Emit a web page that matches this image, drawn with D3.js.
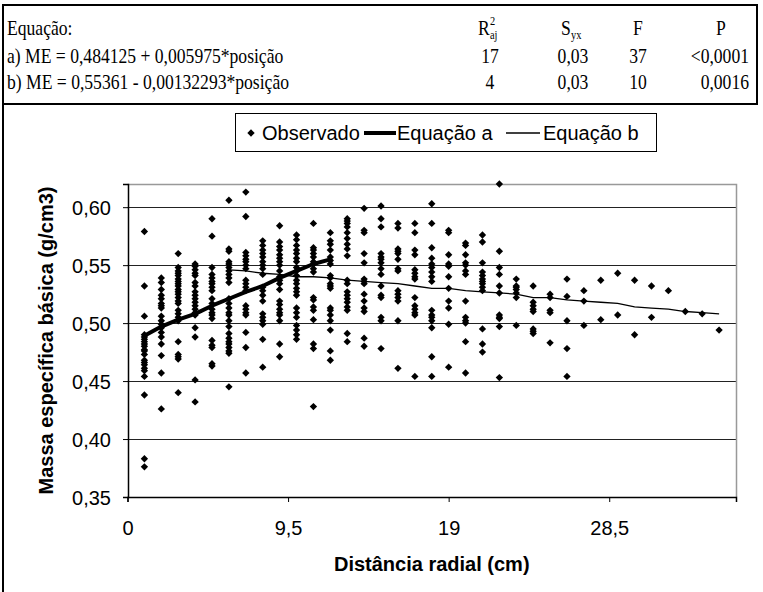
<!DOCTYPE html>
<html>
<head>
<meta charset="utf-8">
<script src="https://cdn.jsdelivr.net/npm/d3@7/dist/d3.min.js"></script>
<style>
  body { margin: 0; background: #fff; }
  svg { display: block; }
</style>
</head>
<body>
<div id="chart"></div>
<script>
// posições radiais (cm) e massa específica observada em cada posição
var posicoes = [1, 2, 3, 4, 5, 6, 7, 8, 9, 10, 11, 12, 13, 14, 15, 16, 17, 18,
  19, 20, 21, 22, 23, 24, 25, 26, 27, 28, 29, 30, 31, 32, 33, 34, 35];

var observado = [
  [0.579, 0.532, 0.506, 0.490, 0.488, 0.486, 0.484, 0.482, 0.480, 0.477, 0.476, 0.473, 0.468, 0.466, 0.464, 0.461, 0.459, 0.454, 0.438, 0.383, 0.376],
  [0.539, 0.535, 0.529, 0.524, 0.521, 0.517, 0.515, 0.513, 0.506, 0.502, 0.499, 0.496, 0.492, 0.488, 0.482, 0.472, 0.457, 0.426],
  [0.560, 0.548, 0.545, 0.543, 0.541, 0.538, 0.536, 0.534, 0.532, 0.529, 0.527, 0.525, 0.522, 0.519, 0.517, 0.511, 0.508, 0.505, 0.502, 0.484, 0.473, 0.471, 0.469, 0.440],
  [0.551, 0.549, 0.546, 0.543, 0.541, 0.535, 0.532, 0.527, 0.524, 0.521, 0.518, 0.515, 0.512, 0.509, 0.507, 0.496, 0.488, 0.451, 0.432],
  [0.590, 0.575, 0.548, 0.542, 0.539, 0.536, 0.534, 0.531, 0.528, 0.521, 0.517, 0.512, 0.509, 0.507, 0.504, 0.485, 0.481, 0.479, 0.465, 0.463],
  [0.606, 0.564, 0.562, 0.553, 0.551, 0.548, 0.545, 0.542, 0.539, 0.535, 0.521, 0.517, 0.513, 0.509, 0.507, 0.502, 0.497, 0.491, 0.487, 0.484, 0.482, 0.479, 0.476, 0.474, 0.445],
  [0.613, 0.592, 0.561, 0.558, 0.555, 0.553, 0.550, 0.547, 0.537, 0.534, 0.531, 0.528, 0.515, 0.512, 0.509, 0.507, 0.492, 0.479, 0.457],
  [0.571, 0.567, 0.563, 0.560, 0.557, 0.553, 0.550, 0.547, 0.542, 0.531, 0.528, 0.524, 0.519, 0.508, 0.505, 0.502, 0.499, 0.486, 0.462],
  [0.584, 0.570, 0.566, 0.563, 0.559, 0.556, 0.553, 0.550, 0.545, 0.540, 0.537, 0.534, 0.529, 0.519, 0.516, 0.512, 0.509, 0.507, 0.502, 0.482, 0.471],
  [0.576, 0.572, 0.567, 0.563, 0.560, 0.556, 0.553, 0.548, 0.545, 0.541, 0.537, 0.534, 0.530, 0.527, 0.524, 0.513, 0.509, 0.505, 0.498, 0.494, 0.490, 0.486],
  [0.586, 0.565, 0.563, 0.560, 0.557, 0.553, 0.551, 0.547, 0.544, 0.522, 0.520, 0.514, 0.511, 0.503, 0.482, 0.478, 0.428],
  [0.578, 0.571, 0.568, 0.563, 0.557, 0.554, 0.551, 0.541, 0.539, 0.534, 0.532, 0.530, 0.513, 0.511, 0.507, 0.502, 0.494, 0.476, 0.468],
  [0.590, 0.588, 0.586, 0.583, 0.578, 0.573, 0.568, 0.564, 0.558, 0.537, 0.534, 0.527, 0.524, 0.521, 0.518, 0.514, 0.511, 0.491, 0.484],
  [0.599, 0.580, 0.578, 0.560, 0.552, 0.538, 0.536, 0.534, 0.525, 0.519, 0.513, 0.510, 0.487, 0.480],
  [0.601, 0.590, 0.583, 0.560, 0.557, 0.555, 0.552, 0.547, 0.542, 0.532, 0.524, 0.522, 0.505, 0.502, 0.478],
  [0.586, 0.582, 0.564, 0.562, 0.560, 0.555, 0.547, 0.545, 0.528, 0.525, 0.522, 0.519, 0.502, 0.461],
  [0.586, 0.578, 0.563, 0.559, 0.546, 0.543, 0.540, 0.538, 0.522, 0.515, 0.512, 0.509, 0.507, 0.454],
  [0.603, 0.586, 0.565, 0.556, 0.551, 0.548, 0.544, 0.540, 0.536, 0.511, 0.507, 0.505, 0.502, 0.496, 0.471, 0.454],
  [0.580, 0.578, 0.559, 0.551, 0.549, 0.540, 0.530, 0.519, 0.513, 0.499, 0.462],
  [0.569, 0.567, 0.559, 0.552, 0.550, 0.545, 0.542, 0.519, 0.505, 0.502, 0.500, 0.484, 0.457],
  [0.576, 0.570, 0.552, 0.544, 0.541, 0.538, 0.536, 0.534, 0.531, 0.528, 0.495, 0.482, 0.475],
  [0.620, 0.562, 0.548, 0.542, 0.532, 0.526, 0.507, 0.505, 0.504, 0.497, 0.453],
  [0.538, 0.532, 0.531, 0.529, 0.526, 0.522, 0.498],
  [0.532, 0.518, 0.515, 0.512, 0.510, 0.495, 0.493, 0.491],
  [0.525, 0.522, 0.511, 0.509, 0.483],
  [0.538, 0.523, 0.502, 0.478, 0.454],
  [0.528, 0.519, 0.498],
  [0.537, 0.503],
  [0.543, 0.507],
  [0.537, 0.490],
  [0.532, 0.505],
  [0.528],
  [0.510],
  [0.508],
  [0.494]
];

// curvas ajustadas
var eqA_pos = [1, 2, 3, 4, 5, 6, 7, 8, 9, 10, 11, 12];
var eqA_val = [0.489, 0.497, 0.503, 0.508, 0.515, 0.521, 0.527, 0.532, 0.539, 0.545, 0.551, 0.555];
var eqB_pos = [6, 7, 8, 9, 10, 11, 12, 13, 14, 15, 16, 17, 18, 19, 20, 21, 22, 23, 24, 25, 26, 27, 28, 29, 30, 31, 32, 33, 34, 35];
var eqB_val = [0.546, 0.545, 0.543, 0.542, 0.540, 0.540, 0.539, 0.537, 0.536, 0.535, 0.534, 0.532, 0.530, 0.530, 0.528,
  0.527, 0.526, 0.525, 0.522, 0.522, 0.520, 0.519, 0.518, 0.517, 0.514, 0.513, 0.512, 0.510, 0.509, 0.508];

var xTicks = [0, 9.5, 19, 28.5];
var yTicks = [0.35, 0.40, 0.45, 0.50, 0.55, 0.60];

// tabela acima do gráfico
var tabEquacoes = ["a) ME = 0,484125 + 0,005975*posição", "b) ME = 0,55361 - 0,00132293*posição"];
var tabR2 = ["17", "4"];
var tabSyx = ["0,03", "0,03"];
var tabF = ["37", "10"];
var tabP = ["<0,0001", "0,0016"];
var legenda = ["Observado", "Equação a", "Equação b"];

var width = 763, height = 592;
var svg = d3.select("#chart").append("svg")
  .attr("width", width)
  .attr("height", height);

var serif = "'Liberation Serif', 'Times New Roman', serif";
var sans = "'Liberation Sans', Arial, sans-serif";

// ---- tabela ----
var tab = svg.append("g").attr("font-family", serif).attr("fill", "#000");
tab.append("rect").attr("x", 3).attr("y", 5).attr("width", 754).attr("height", 99)
  .attr("fill", "none").attr("stroke", "#000").attr("stroke-width", 2);

function tText(txt, x, y, anchor, size) {
  return tab.append("text")
    .attr("transform", "translate(" + x + "," + y + ") scale(0.8,1)")
    .attr("text-anchor", anchor || "start")
    .attr("font-size", size || 22)
    .text(txt);
}
var rowY = [35, 63, 89];
tText("Equação:", 7, rowY[0]);
tText("R", 478, rowY[0]);
tText("2", 490, rowY[0] - 10, "start", 13);
tText("aj", 490, rowY[0] + 4, "start", 13);
tText("S", 561, rowY[0]);
tText("yx", 571, rowY[0] + 4, "start", 13);
tText("F", 638, rowY[0], "middle");
tText("P", 721, rowY[0], "middle");
tabEquacoes.forEach(function(t, i) {
  tText(t, 7, rowY[i + 1]);
  tText(tabR2[i], 490, rowY[i + 1], "middle");
  tText(tabSyx[i], 573, rowY[i + 1], "middle");
  tText(tabF[i], 638, rowY[i + 1], "middle");
  tText(tabP[i], 749, rowY[i + 1], "end");
});

// moldura do gráfico
svg.append("line").attr("x1", 3).attr("x2", 3).attr("y1", 104).attr("y2", height)
  .attr("stroke", "#000").attr("stroke-width", 2);

// ---- área de plotagem ----
var x = d3.scaleLinear().domain([0, 36]).range([127.5, 736]);
var y = d3.scaleLinear().domain([0.35, 0.62]).range([497, 184]);

var plot = svg.append("g");

// grade horizontal
plot.selectAll(".grid").data(yTicks.slice(1)).enter().append("line")
  .attr("class", "grid")
  .attr("x1", x(0)).attr("x2", x(36))
  .attr("y1", function(d) { return Math.round(y(d)) + 0.5; })
  .attr("y2", function(d) { return Math.round(y(d)) + 0.5; })
  .attr("stroke", "#222").attr("stroke-width", 1);

// borda cinza (topo e direita)
plot.append("path")
  .attr("d", "M" + x(0) + "," + (y(0.62) + 0.5) + "H" + (x(36) + 0.5) + "V" + y(0.35))
  .attr("fill", "none").attr("stroke", "#999").attr("stroke-width", 1.5);

var yAxis = plot.append("g")
  .attr("transform", "translate(" + Math.round(x(0)) + ",0)")
  .call(d3.axisLeft(y).tickValues(yTicks).tickSizeOuter(0).tickSize(5).tickPadding(12)
    .tickFormat(function(d) { return d3.format(".2f")(d).replace(".", ","); }));

var xAxis = plot.append("g")
  .attr("transform", "translate(0," + Math.round(y(0.35)) + ")")
  .call(d3.axisBottom(x).tickValues(xTicks).tickSizeOuter(0).tickSize(5).tickPadding(19)
    .tickFormat(function(d) { return String(d).replace(".", ","); }));

[yAxis, xAxis].forEach(function(a) {
  a.select(".domain").attr("stroke", "#000").attr("stroke-width", 1.5);
  a.selectAll(".tick line").attr("stroke", "#000");
  a.selectAll(".tick text").attr("font-family", sans).attr("font-size", 20).attr("fill", "#000");
});
yAxis.selectAll(".tick text").attr("dy", "0.36em");

// pontos observados
var pontos = [];
posicoes.forEach(function(p, i) {
  observado[i].forEach(function(v) { pontos.push({ pos: p, val: v }); });
});
var diamante = d3.symbol().type(d3.symbolSquare).size(27);
plot.selectAll(".obs").data(pontos).enter().append("path")
  .attr("class", "obs")
  .attr("d", diamante)
  .attr("transform", function(d) { return "translate(" + x(d.pos) + "," + y(d.val) + ") rotate(45)"; })
  .attr("fill", "#000");

// curvas
var linha = d3.line().x(function(d) { return x(d[0]); }).y(function(d) { return y(d[1]); });
plot.append("path")
  .datum(eqB_pos.map(function(p, i) { return [p, eqB_val[i]]; }))
  .attr("d", linha).attr("fill", "none").attr("stroke", "#000").attr("stroke-width", 1.3);
plot.append("path")
  .datum(eqA_pos.map(function(p, i) { return [p, eqA_val[i]]; }))
  .attr("d", linha).attr("fill", "none").attr("stroke", "#000").attr("stroke-width", 4)
  .attr("stroke-linejoin", "round");

// títulos dos eixos
svg.append("text")
  .attr("x", (x(0) + x(36)) / 2).attr("y", 571)
  .attr("text-anchor", "middle").attr("font-family", sans).attr("font-size", 20).attr("font-weight", "bold")
  .text("Distância radial (cm)");
svg.append("text")
  .attr("transform", "translate(53," + (y(0.35) + y(0.62)) / 2 + ") rotate(-90)")
  .attr("text-anchor", "middle").attr("font-family", sans).attr("font-size", 20).attr("font-weight", "bold")
  .text("Massa específica básica (g/cm3)");

// ---- legenda ----
var leg = svg.append("g").attr("font-family", sans).attr("font-size", 20);
leg.append("rect").attr("x", 235.5).attr("y", 113.5).attr("width", 421).attr("height", 38)
  .attr("fill", "#fff").attr("stroke", "#000");
leg.append("path").attr("d", diamante)
  .attr("transform", "translate(251,133) rotate(45)").attr("fill", "#000");
leg.append("text").attr("x", 262).attr("y", 140).text(legenda[0]);
leg.append("line").attr("x1", 364).attr("x2", 396).attr("y1", 133).attr("y2", 133)
  .attr("stroke", "#000").attr("stroke-width", 4);
leg.append("text").attr("x", 397).attr("y", 140).text(legenda[1]);
leg.append("line").attr("x1", 506).attr("x2", 540).attr("y1", 133).attr("y2", 133)
  .attr("stroke", "#000").attr("stroke-width", 1.3);
leg.append("text").attr("x", 543).attr("y", 140).text(legenda[2]);
</script>
</body>
</html>
